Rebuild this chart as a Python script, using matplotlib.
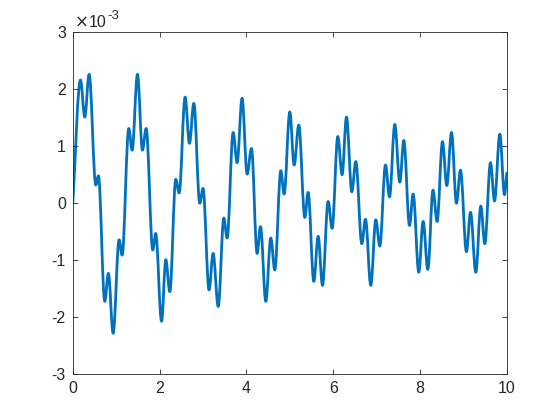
import matplotlib
matplotlib.use('Agg')
import matplotlib.pyplot as plt
from matplotlib.path import Path
from matplotlib.patches import PathPatch

# local extrema of the signal (y in units of 1e-3)
x_pts = [0, 0.177, 0.276, 0.376, 0.53, 0.59, 0.737, 0.82, 0.929, 1.067, 1.136,
         1.29, 1.367, 1.49, 1.605, 1.69, 1.843, 1.91, 2.045, 2.143, 2.235,
         2.373, 2.45, 2.588, 2.688, 2.788, 2.926, 3.0, 3.14, 3.233, 3.35,
         3.48, 3.556, 3.695, 3.786, 3.90, 4.017, 4.117, 4.247, 4.325, 4.447,
         4.562, 4.654, 4.793, 4.869, 5.0, 5.1, 5.207, 5.346, 5.422, 5.553,
         5.653, 5.753, 5.883, 5.975, 6.106, 6.205, 6.306, 6.429, 6.521, 6.659,
         6.744, 6.866, 6.982, 7.074, 7.205, 7.297, 7.419, 7.535, 7.627, 7.758,
         7.842, 7.972, 8.072, 8.18, 8.30, 8.394, 8.518, 8.618, 8.726, 8.84,
         8.933, 9.07, 9.164, 9.286, 9.401, 9.493, 9.624, 9.717, 9.839, 9.947, 10.0]
y_pts = [0.0, 2.15, 1.50, 2.25, 0.31, 0.47, -1.73, -1.24, -2.29, -0.65, -0.92,
         1.30, 0.92, 2.25, 0.92, 1.30, -0.83, -0.54, -2.08, -1.00, -1.56,
         0.41, 0.17, 1.85, 1.04, 1.74, -0.01, 0.25, -1.53, -0.89, -1.82,
         -0.27, -0.62, 1.23, 0.70, 1.83, 0.50, 0.95, -0.89, -0.42, -1.73,
         -0.62, -1.18, 0.56, 0.15, 1.59, 0.66, 1.36, -0.26, 0.18, -1.38,
         -0.59, -1.45, 0.02, -0.45, 1.16, 0.49, 1.50, 0.19, 0.72, -0.72,
         -0.29, -1.45, -0.30, -0.76, 0.66, 0.10, 1.37, 0.36, 1.09, -0.40,
         0.15, -1.22, -0.33, -1.17, 0.22, -0.33, 1.07, 0.30, 1.23, -0.01,
         0.57, -0.86, -0.17, -1.22, -0.06, -0.72, 0.70, 0.03, 1.20, 0.14, 0.52]

x_ticks = [0, 2, 4, 6, 8, 10]
y_ticks = [-3, -2, -1, 0, 1, 2, 3]

plt.rcParams['font.family'] = ['Liberation Sans', 'DejaVu Sans']
fig = plt.figure(figsize=(5.6, 4.2), dpi=100)
ax = fig.add_axes([0.13, 0.11, 0.775, 0.815])

# smooth curve through the extrema: cubic bezier, flat at each extremum
k = 0.36
verts = [(x_pts[0], y_pts[0])]
codes = [Path.MOVETO]
n = len(x_pts)
for i in range(n - 1):
    x0, y0 = x_pts[i], y_pts[i]
    x1, y1 = x_pts[i + 1], y_pts[i + 1]
    dx = x1 - x0
    if i == 0:
        c1 = (x0 + dx / 3, y0 + (y1 - y0) / 3)
    else:
        c1 = (x0 + k * dx, y0)
    if i == n - 2:
        c2 = (x1 - dx / 3, y1 - (y1 - y0) / 3)
    else:
        c2 = (x1 - k * dx, y1)
    verts += [c1, c2, (x1, y1)]
    codes += [Path.CURVE4] * 3
ax.add_patch(PathPatch(Path(verts, codes), facecolor='none',
                       edgecolor='#0072BD', lw=2, capstyle='round',
                       joinstyle='round'))

ax.set_xlim(0, 10)
ax.set_ylim(-3, 3)
ax.set_xticks(x_ticks)
ax.set_yticks(y_ticks)
ax.set_yticklabels([str(t) for t in y_ticks])
ax.tick_params(direction='in', length=3.5, width=0.6, colors='#262626',
               labelsize=11.5, top=True, right=True, pad=5)
for s in ax.spines.values():
    s.set_linewidth(0.6)
    s.set_color('#262626')

ax.text(0.005, 1.012, '\u00d7', transform=ax.transAxes, fontsize=12,
        family='DejaVu Sans', color='#262626', va='baseline', ha='left')
ax.text(0.036, 1.012, '10', transform=ax.transAxes, fontsize=11.5,
        color='#262626', va='baseline', ha='left')
ax.text(0.080, 1.036, '-3', transform=ax.transAxes, fontsize=9.5,
        color='#262626', va='baseline', ha='left')

fig.savefig('out.png', dpi=100)
